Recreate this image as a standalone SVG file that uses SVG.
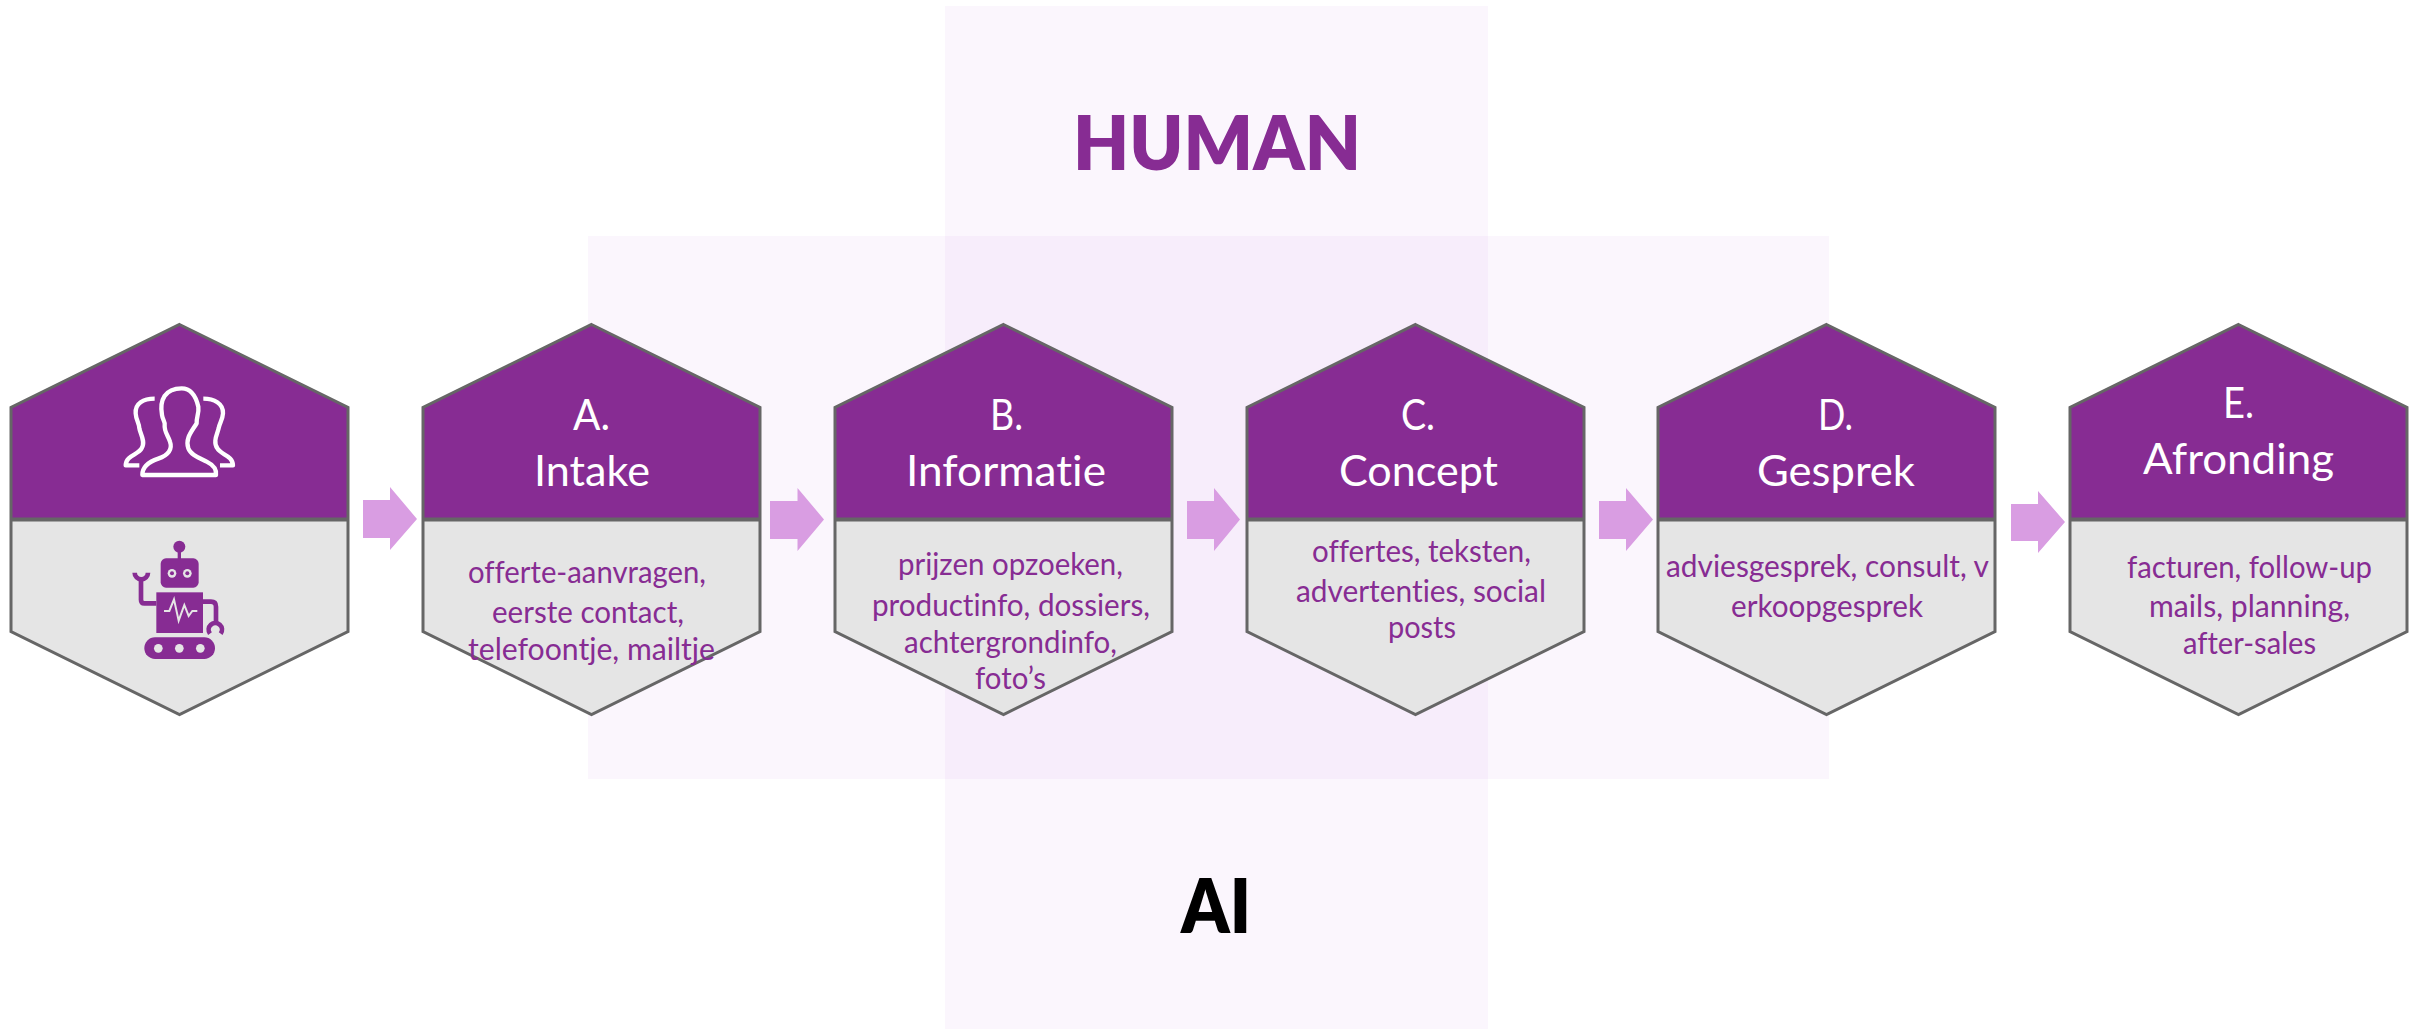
<svg xmlns="http://www.w3.org/2000/svg" width="2420" height="1029" viewBox="0 0 2420 1029">
<style>
.bg{fill:#fff}
.band{fill:#b850d8;fill-opacity:.05}
.top{fill:#872c93}
.bot{fill:#e5e5e5}
.out{fill:none;stroke:#666;stroke-width:3;stroke-linejoin:miter}
.div{stroke:#666;stroke-width:4}
.arrow{fill:#d99de2}
text{font-family:"Lato","Liberation Sans",sans-serif;font-variant-ligatures:none}
.title{font-size:43px;fill:#fff}
.body{font-size:31px;fill:#872c93}
.big{font-size:76px;font-weight:800}
.ico{fill:none;stroke:#fff;stroke-width:13;stroke-linecap:butt;stroke-linejoin:round}
.rf{fill:#872c93}
.rs{fill:none;stroke:#872c93;stroke-width:14}
.rg{fill:#e5e5e5}
</style>
<defs>
<g id="hex">
<polygon class="top" points="0,-195 168.500,-112 168.500,0 -168.500,0 -168.500,-112"/>
<polygon class="bot" points="-168.500,0 168.500,0 168.500,112 0,195 -168.500,112"/>
<polygon class="out" points="0,-195 168.500,-112 168.500,112 0,195 -168.500,112 -168.500,-112"/>
<line class="div" x1="-168.500" y1="0" x2="168.500" y2="0"/>
</g>
</defs>
<rect class="bg" width="2420" height="1029"/>
<g id="bands">
<rect class="band" x="588" y="236" width="1241" height="543"/>
<rect class="band" x="945" y="6" width="543" height="1023"/>
</g>
<text id="label-human" class="big" x="1073" y="170" textLength="288" lengthAdjust="spacingAndGlyphs" fill="#872c93">HUMAN</text>
<text id="label-ai" class="big" x="1181" y="933" textLength="70" lengthAdjust="spacingAndGlyphs" fill="#000">AI</text>
<g id="connectors">
<polygon class="arrow" points="363,500 390,500 390,487 417,519 390,550 390,538 363,538"/>
<polygon class="arrow" points="770,501 797.500,501 797.500,488 824,519.500 797.500,551 797.500,539 770,539"/>
<polygon class="arrow" points="1187,501 1214,501 1214,488 1240,519.500 1214,551 1214,539 1187,539"/>
<polygon class="arrow" points="1599,501 1626,501 1626,488 1653,519.500 1626,551 1626,539 1599,539"/>
<polygon class="arrow" points="2011,504 2038,504 2038,491 2065,522 2038,553 2038,541 2011,541"/>
</g>
<g id="node-start">
<use href="#hex" x="179.500" y="519.500"/>
<g transform="translate(90,360) scale(.3333)">
<path class="ico" d="M157 345C157 322 178 305 205 296C235 286 248 268 240 245C235 228 222 215 224 195C226 185 218 180 216 165C208 120 225 85 275 85C305 85 318 110 325 140C328 160 318 175 320 190C305 215 285 235 295 265C302 285 330 295 350 305C370 315 380 330 378 345Z"/>
<path class="ico" d="M194 116C160 116 135 130 137 160C138 180 148 190 148 205C150 220 168 245 155 265C145 285 108 285 107 316H148"/>
<path class="ico" d="M340 116C372 116 400 130 399 160C398 180 388 190 386 205C382 222 368 245 382 265C392 285 428 285 429 316H390"/>
</g>
<g transform="translate(110,530) scale(.3333)">
<circle class="rf" cx="208" cy="50" r="18"/>
<rect class="rf" x="203" y="50" width="10" height="40"/>
<rect class="rf" x="152" y="85" width="114" height="88" rx="16"/>
<circle class="rg" cx="186" cy="130" r="13"/><circle class="rf" cx="186" cy="130" r="6"/>
<circle class="rg" cx="232" cy="130" r="13"/><circle class="rf" cx="232" cy="130" r="6"/>
<rect class="rf" x="139" y="187" width="140" height="122"/>
<polyline points="162,243 178,243 192,208 206,272 223,225 236,258 247,243 262,243" fill="none" stroke="#e5e5e5" stroke-width="6"/>
<path class="rs" d="M139 220H103Q93 220 93 209V150"/>
<path class="rs" d="M74 128A19 19 0 0 0 114 128" stroke-width="18"/>
<path class="rs" d="M279 215H303Q318 215 318 230V275"/>
<path class="rs" d="M300 311A20 20 0 1 1 332 311" stroke-width="17"/>
<rect class="rf" x="103" y="322" width="212" height="65" rx="32"/>
<circle class="rg" cx="145" cy="355" r="13"/><circle class="rg" cx="208" cy="355" r="13"/><circle class="rg" cx="271" cy="355" r="13"/>
</g>
</g>
<g id="node-a">
<use href="#hex" x="591.500" y="519.500"/>
<text class="title" x="573" y="430" textLength="37" lengthAdjust="spacingAndGlyphs">A.</text>
<text class="title" x="534" y="486" textLength="116" lengthAdjust="spacingAndGlyphs">Intake</text>
<text class="body" x="468" y="583" textLength="238" lengthAdjust="spacingAndGlyphs">offerte-aanvragen,</text>
<text class="body" x="492" y="623" textLength="192" lengthAdjust="spacingAndGlyphs">eerste contact,</text>
<text class="body" x="468" y="660" textLength="247" lengthAdjust="spacingAndGlyphs">telefoontje, mailtje</text>
</g>
<g id="node-b">
<use href="#hex" x="1003.500" y="519.500"/>
<text class="title" x="990" y="430" textLength="33" lengthAdjust="spacingAndGlyphs">B.</text>
<text class="title" x="906" y="486" textLength="200" lengthAdjust="spacingAndGlyphs">Informatie</text>
<text class="body" x="898" y="575" textLength="225" lengthAdjust="spacingAndGlyphs">prijzen opzoeken,</text>
<text class="body" x="872" y="616" textLength="278" lengthAdjust="spacingAndGlyphs">productinfo, dossiers,</text>
<text class="body" x="904" y="653" textLength="213" lengthAdjust="spacingAndGlyphs">achtergrondinfo,</text>
<text class="body" x="975" y="689" textLength="71" lengthAdjust="spacingAndGlyphs">foto’s</text>
</g>
<g id="node-c">
<use href="#hex" x="1415.500" y="519.500"/>
<text class="title" x="1401" y="430" textLength="34" lengthAdjust="spacingAndGlyphs">C.</text>
<text class="title" x="1339" y="486" textLength="159" lengthAdjust="spacingAndGlyphs">Concept</text>
<text class="body" x="1312" y="562" textLength="219" lengthAdjust="spacingAndGlyphs">offertes, teksten,</text>
<text class="body" x="1296" y="602" textLength="250" lengthAdjust="spacingAndGlyphs">advertenties, social</text>
<text class="body" x="1388" y="638" textLength="68" lengthAdjust="spacingAndGlyphs">posts</text>
</g>
<g id="node-d">
<use href="#hex" x="1826.500" y="519.500"/>
<text class="title" x="1818" y="430" textLength="35" lengthAdjust="spacingAndGlyphs">D.</text>
<text class="title" x="1757" y="486" textLength="158" lengthAdjust="spacingAndGlyphs">Gesprek</text>
<text class="body" x="1666" y="577" textLength="323" lengthAdjust="spacingAndGlyphs">adviesgesprek, consult, v</text>
<text class="body" x="1731" y="617" textLength="192" lengthAdjust="spacingAndGlyphs">erkoopgesprek</text>
</g>
<g id="node-e">
<use href="#hex" x="2238.500" y="519.500"/>
<text class="title" x="2223" y="418" textLength="31" lengthAdjust="spacingAndGlyphs">E.</text>
<text class="title" x="2143" y="474" textLength="191" lengthAdjust="spacingAndGlyphs">Afronding</text>
<text class="body" x="2127" y="578" textLength="245" lengthAdjust="spacingAndGlyphs">facturen, follow-up</text>
<text class="body" x="2149" y="617" textLength="201" lengthAdjust="spacingAndGlyphs">mails, planning,</text>
<text class="body" x="2183" y="654" textLength="133" lengthAdjust="spacingAndGlyphs">after-sales</text>
</g>
</svg>
